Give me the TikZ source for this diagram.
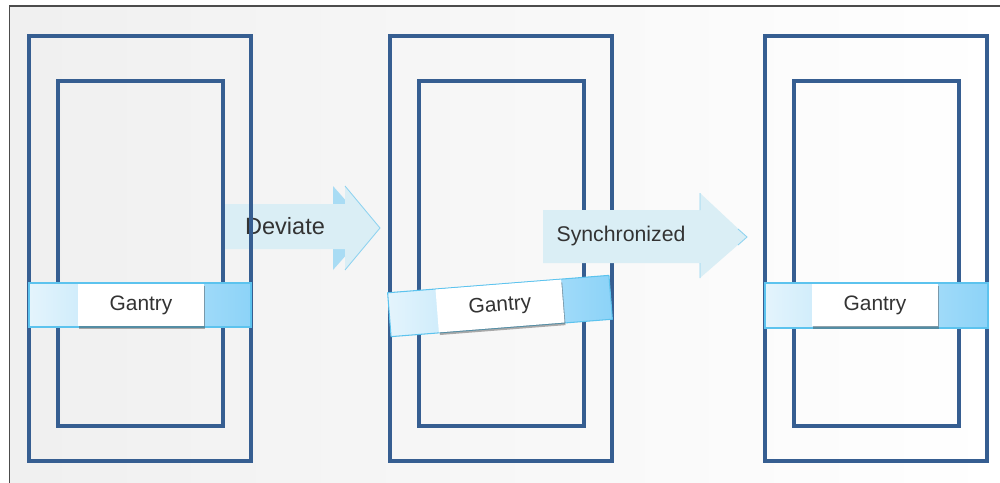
\documentclass[tikz,border=0pt]{standalone}
\usepackage{fontspec}
\setmainfont{Liberation Sans}
\usetikzlibrary{positioning,shadows}

\definecolor{framecol}{HTML}{365E91}
\definecolor{bandlight}{HTML}{E4F4FC}
\definecolor{banddark}{HTML}{8CD3F8}
\definecolor{bandedge}{HTML}{5CC3EE}
\definecolor{arrowfill}{HTML}{DAEEF5}
\definecolor{arrowback}{HTML}{A9DCF4}
\definecolor{arrowedge}{HTML}{8FD3F0}
\definecolor{textcol}{HTML}{333333}

\begin{document}
\begin{tikzpicture}[x=0.02cm, y=-0.02cm,
    frameline/.style={draw=framecol, line width=1.9pt},
    bandbar/.style={draw=bandedge, line width=0.6pt, left color=bandlight, right color=banddark},
    gantrybox/.style={fill=white, minimum width=2.52cm, minimum height=0.86cm, inner sep=0pt,
        font=\fontsize{11.9}{14}\selectfont, text=textcol,
        drop shadow={shadow xshift=0.6pt, shadow yshift=-1.5pt, opacity=0.45, fill=black!70}},
    arrowtext/.style={inner sep=0pt, text=textcol}]

    \useasboundingbox (0,0) rectangle (1000,483);

    % page background and its border
    \fill[left color=black!6, right color=white] (9.5,6) rectangle (1000,483);
    \draw[line width=0.9pt, black!70] (9.5,483) -- (9.5,6) -- (1000,6);

    % Deviate arrow (lies behind the first frame)
    \fill[arrowback] (333,186) -- (370,228) -- (333,270) -- cycle;
    \fill[arrowfill] (225,204) -- (345,204) -- (345,186) -- (380,228) -- (345,270) -- (345,249) -- (225,249) -- cycle;
    \draw[arrowedge, line width=0.5pt] (345,186) -- (380,228) -- (345,270);
    \node[arrowtext, font=\fontsize{13.4}{16}\selectfont] (deviate) at (285,226) {Deviate};

    % three frames: outer rail and inner rail
    \foreach \x in {29,390,765} {
        \draw[frameline] (\x,36) rectangle (\x+222,461);
        \draw[frameline] (\x+29,81) rectangle (\x+194,426);
    }

    % Synchronized arrow (lies over the second frame)
    \fill[arrowfill] (543,210) -- (700,210) -- (700,193) -- (747,237) -- (700,278) -- (700,263) -- (543,263) -- cycle;
    \draw[arrowedge, line width=0.5pt] (700,193) -- (700,210) (700,263) -- (700,278) (738,229) -- (747,237) -- (738,245);
    \node[arrowtext, font=\fontsize{12.1}{14}\selectfont] (sync) at (621,236) {Synchronized};

    % Gantry, first frame
    \draw[bandbar] (29,283) rectangle (251,327);
    \node[gantrybox] (gantryA) at (141,305) {Gantry};

    % Gantry, second frame (skewed)
    \begin{scope}[rotate around={4.5:(500,306)}]
        \draw[bandbar] (389,284) rectangle (611,328);
        \node[gantrybox, transform shape] (gantryB) at (500,306) {Gantry};
    \end{scope}

    % Gantry, third frame
    \draw[bandbar] (765,283) rectangle (988,328);
    \node[gantrybox] (gantryC) at (875,305) {Gantry};
\end{tikzpicture}
\end{document}
